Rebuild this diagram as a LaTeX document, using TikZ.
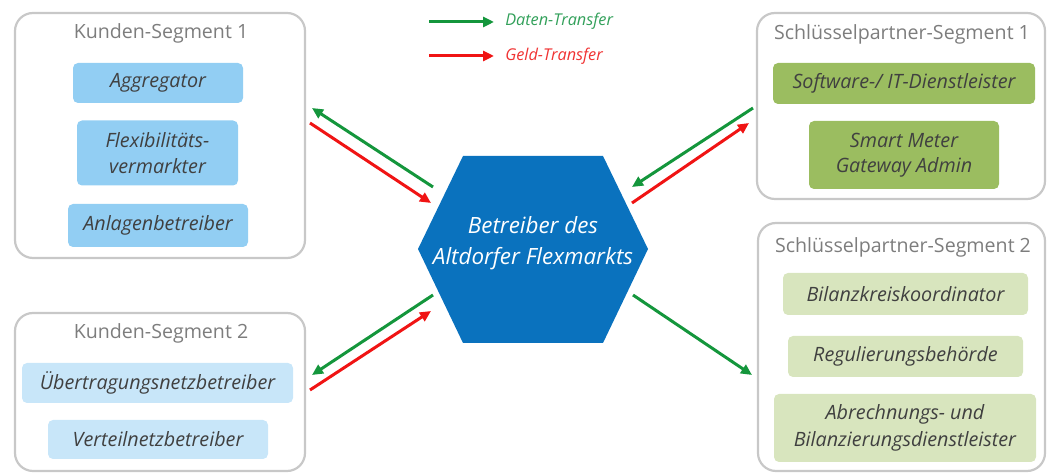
\documentclass[tikz,border=0pt]{standalone}
\usepackage{fontspec}
\setmainfont{Open Sans}
\usetikzlibrary{arrows.meta}
\definecolor{segborder}{RGB}{200,200,200}
\definecolor{segtitle}{RGB}{125,125,125}
\definecolor{boxtext}{RGB}{64,64,64}
\definecolor{blueA}{RGB}{146,206,243}
\definecolor{blueB}{RGB}{200,230,249}
\definecolor{greenA}{RGB}{155,189,96}
\definecolor{greenB}{RGB}{216,229,190}
\definecolor{hexblue}{RGB}{10,114,190}
\definecolor{datgreen}{RGB}{20,150,60}
\definecolor{geldred}{RGB}{240,20,20}
\definecolor{dattext}{RGB}{50,160,90}
\definecolor{geldtext}{RGB}{240,50,50}
\tikzset{
  segbox/.style={draw=segborder, line width=1.65pt, rounded corners=13.5pt, inner sep=0pt},
  segtitlestyle/.style={text=segtitle, font=\fontsize{14.7}{17}\selectfont, inner sep=0pt},
  item/.style={rounded corners=3.75pt, inner sep=0pt, text=boxtext, align=center,
     font=\fontsize{14.8}{19}\selectfont\itshape},
  darr/.style={draw=datgreen, line width=2.25pt, -{Triangle[length=8.25pt, width=7.5pt]}},
  garr/.style={draw=geldred, line width=2.25pt, -{Triangle[length=8.25pt, width=7.5pt]}},
}
\begin{document}
\begin{tikzpicture}[x=0.75pt, y=-0.75pt]
\useasboundingbox (0,0) rectangle (1047,473);
% outer segment boxes
\node[segbox, minimum width=217.5pt, minimum height=183.75pt] (ks1) at (160,135.5) {};
\node[segbox, minimum width=217.5pt, minimum height=118.5pt] (ks2) at (160,392) {};
\node[segbox, minimum width=216pt, minimum height=139.5pt] (sp1) at (901,106) {};
\node[segbox, minimum width=215.25pt, minimum height=186pt] (sp2) at (901.5,347) {};
% titles
\node[segtitlestyle] (ks1t) at (161,33) {Kunden-Segment 1};
\node[segtitlestyle] (ks2t) at (161,333) {Kunden-Segment 2};
\node[segtitlestyle] (sp1t) at (902,34) {Schlüsselpartner-Segment 1};
\node[segtitlestyle] (sp2t) at (903,247) {Schlüsselpartner-Segment 2};
% Kunden-Segment 1 items
\node[item, fill=blueA, minimum width=127.5pt, minimum height=30pt] (agg) at (158,83) {Aggregator};
\node[item, fill=blueA, minimum width=120.75pt, minimum height=48.75pt] (flex) at (157.5,153) {Flexibilitäts-\\vermarkter};
\node[item, fill=blueA, minimum width=135pt, minimum height=32.25pt] (anl) at (158,225.5) {Anlagenbetreiber};
% Kunden-Segment 2 items
\node[item, fill=blueB, minimum width=203.25pt, minimum height=30pt] (uenb) at (157.5,383) {Übertragungsnetzbetreiber};
\node[item, fill=blueB, minimum width=165pt, minimum height=29.25pt] (vnb) at (158,439.5) {Verteilnetzbetreiber};
% Schluesselpartner-Segment 1 items
\node[item, fill=greenA, minimum width=196.5pt, minimum height=30.75pt] (soft) at (904,83.5) {Software-/ IT-Dienstleister};
\node[item, fill=greenA, minimum width=142.5pt, minimum height=51pt] (smgw) at (904,155) {Smart Meter\\Gateway Admin};
% Schluesselpartner-Segment 2 items
\node[item, fill=greenB, minimum width=183.75pt, minimum height=31.5pt] (bkk) at (905.5,294) {Bilanzkreiskoordinator};
\node[item, fill=greenB, minimum width=176.25pt, minimum height=30.75pt] (reg) at (905.5,356.5) {Regulierungsbehörde};
\node[item, fill=greenB, minimum width=196.5pt, minimum height=51pt, font=\fontsize{14.8}{20}\selectfont\itshape] (abr) at (905,428) {Abrechnungs- und\\Bilanzierungsdienstleister};
% hexagon
\coordinate (h1) at (418,249);
\coordinate (h2) at (463,156);
\coordinate (h3) at (603,156);
\coordinate (h4) at (648,249);
\coordinate (h5) at (603,343);
\coordinate (h6) at (463,343);
\fill[hexblue] (h1) -- (h2) -- (h3) -- (h4) -- (h5) -- (h6) -- cycle;
\node[text=white, align=center, font=\fontsize{16.8}{23}\selectfont\itshape, inner sep=0pt] (hex) at (533,243) {Betreiber des\\Altdorfer Flexmarkts};
% legend
\coordinate (lg1) at (429,22);
\coordinate (lg2) at (494,22);
\coordinate (lr1) at (429,56);
\coordinate (lr2) at (494,56);
\draw[darr] (lg1) -- (lg2);
\draw[garr] (lr1) -- (lr2);
\node[anchor=west, text=dattext, font=\fontsize{12.2}{14}\selectfont\itshape, inner sep=0pt] (legd) at (505,21) {Daten-Transfer};
\node[anchor=west, text=geldtext, font=\fontsize{12.2}{14}\selectfont\itshape, inner sep=0pt] (legg) at (505,56) {Geld-Transfer};
% connectors upper left
\coordinate (ulg1) at (433,187);
\coordinate (ulg2) at (312,108);
\coordinate (ulr1) at (310,123);
\coordinate (ulr2) at (431,203);
\draw[darr] (ulg1) -- (ulg2);
\draw[garr] (ulr1) -- (ulr2);
% upper right
\coordinate (urg1) at (753,108);
\coordinate (urg2) at (632,187);
\coordinate (urr1) at (632,203);
\coordinate (urr2) at (749,123);
\draw[darr] (urg1) -- (urg2);
\draw[garr] (urr1) -- (urr2);
% lower left
\coordinate (llg1) at (433,295);
\coordinate (llg2) at (312,375);
\coordinate (llr1) at (310,390);
\coordinate (llr2) at (431,311);
\draw[darr] (llg1) -- (llg2);
\draw[garr] (llr1) -- (llr2);
% lower right
\coordinate (lrg1) at (633,295);
\coordinate (lrg2) at (752,375);
\draw[darr] (lrg1) -- (lrg2);
\end{tikzpicture}
\end{document}
